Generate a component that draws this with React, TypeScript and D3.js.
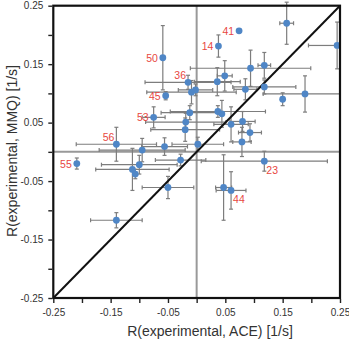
import React, { useEffect, useRef } from 'react';
import * as d3 from 'd3';

// relaxation rates, ACE (x) vs MMQ (y), with their errors
const rAce = [0.074, 0.038, 0.157, 0.245, 0.094, 0.118, 0.049, 0.036, -0.015, -0.009,
  -0.002, 0.085, 0.118, 0.150, 0.189, -0.059, -0.054, -0.075, -0.012, -0.019,
  -0.020, 0.037, 0.044, 0.060, 0.080, 0.093, 0.079, 0.002, -0.140, -0.095,
  -0.056, -0.028, -0.100, -0.112, -0.107, -0.050, -0.140, -0.209, 0.118, 0.047, 0.060];
const rMmq = [0.207, 0.181, 0.220, 0.182, 0.143, 0.148, 0.130, 0.120, 0.119, 0.102,
  0.106, 0.107, 0.111, 0.090, 0.099, 0.161, 0.096, 0.059, 0.067, 0.051,
  0.038, 0.069, 0.065, 0.047, 0.052, 0.033, 0.017, 0.013, 0.013, 0.003,
  0.009, -0.014, -0.022, -0.030, -0.038, -0.061, -0.117, -0.020, -0.016, -0.061, -0.066];
const aceErr = [0, 0, 0.012, 0.05, 0.105, 0.011, 0.013, 0.04, 0.075, 0.078,
  0.03, 0.02, 0.055, 0, 0.073, 0, 0, 0.02, 0.05, 0.07,
  0.06, 0.083, 0, 0.03, 0.022, 0.02, 0.016, 0.045, 0.07, 0.075,
  0.04, 0.044, 0.066, 0.064, 0, 0.045, 0.045, 0, 0.11, 0.014, 0.026];
const mmqErr = [0, 0.019, 0.036, 0.04, 0.031, 0.022, 0.026, 0.024, 0.012, 0.02,
  0.01, 0.018, 0.012, 0.011, 0.031, 0.055, 0.007, 0.018, 0.012, 0.015,
  0.02, 0.01, 0.023, 0.03, 0.017, 0.015, 0.025, 0.012, 0.029, 0.02,
  0.015, 0.01, 0.016, 0.036, 0.008, 0.019, 0.013, 0.0095, 0.017, 0.056, 0.032];

// residue ids shown next to selected points and where the id sits
const residueIds = ['41', '14', '', '', '', '', '', '', '36', '',
  '', '', '', '', '', '50', '45', '53', '', '',
  '', '', '', '', '', '', '', '', '56', '',
  '', '', '', '', '', '', '', '55', '23', '', '44'];
const labelSide = ['left', 'left', '', '', '', '', '', '', 'upleft', '',
  '', '', '', '', '', 'left', 'left', 'left', '', '',
  '', '', '', '', '', '', '', '', 'upleft', '',
  '', '', '', '', '', '', '', 'left', 'downright', '', 'downright'];

const tickValues = [-0.25, -0.2, -0.15, -0.1, -0.05, 0, 0.05, 0.1, 0.15, 0.2, 0.25];
const labeledTicks = [-0.25, -0.15, -0.05, 0.05, 0.15, 0.25];

const W = 349;
const H = 345;
const margin = { top: 5.7, right: 9, bottom: 47, left: 53.3 };

const font = '"Liberation Sans", Arial, sans-serif';

export default function App() {
  const xAxisRef = useRef<SVGGElement>(null);
  const yAxisRef = useRef<SVGGElement>(null);

  const x = d3.scaleLinear().domain([-0.25, 0.25]).range([margin.left, W - margin.right]);
  const y = d3.scaleLinear().domain([-0.25, 0.25]).range([H - margin.bottom, margin.top]);

  const fmt = (d: d3.NumberValue) => {
    const v = +d;
    return labeledTicks.some(t => Math.abs(t - v) < 1e-9) ? v.toFixed(2) : '';
  };

  useEffect(() => {
    const gx = d3.select(xAxisRef.current!);
    gx.selectAll('*').remove();
    gx.call(d3.axisBottom(x).tickValues(tickValues).tickFormat(fmt).tickSize(4).tickPadding(6));
    const gy = d3.select(yAxisRef.current!);
    gy.selectAll('*').remove();
    gy.call(d3.axisLeft(y).tickValues(tickValues).tickFormat(fmt).tickSize(4).tickPadding(5));
    [gx, gy].forEach(g => {
      g.select('.domain').remove();
      g.selectAll('line').attr('stroke', '#222').attr('stroke-width', 1.4);
      g.selectAll('text').attr('fill', '#333').style('font-family', font).style('font-size', '10px');
    });
  }, []);

  const cap = 2;
  const pts = rAce.map((v, i) => ({
    cx: x(v), cy: y(rMmq[i]),
    ex: aceErr[i], ey: mmqErr[i],
    id: residueIds[i], side: labelSide[i],
    xv: v, yv: rMmq[i],
  }));

  const diag = d3.line<number>().x(d => x(d)).y(d => y(d))([-0.25, 0.25]);

  return (
    <svg width={W} height={H} style={{ position: 'absolute', left: 0, top: 0, background: '#fff' }}>
      {/* zero reference lines */}
      <line x1={x(0)} x2={x(0)} y1={y(-0.25)} y2={y(0.25)} stroke="#999" strokeWidth={2} />
      <line x1={x(-0.25)} x2={x(0.25)} y1={y(0)} y2={y(0)} stroke="#999" strokeWidth={2} />

      {/* error bars */}
      <g stroke="#7d7d7d" strokeWidth={1.2}>
        {pts.map((p, i) => (
          <g key={i}>
            {p.ex > 0 && (
              <>
                <line x1={x(Math.max(-0.25, p.xv - p.ex))} x2={x(Math.min(0.25, p.xv + p.ex))} y1={p.cy} y2={p.cy} />
                <line x1={x(p.xv - p.ex)} x2={x(p.xv - p.ex)} y1={p.cy - cap} y2={p.cy + cap} />
                {p.xv + p.ex < 0.25 && (
                  <line x1={x(p.xv + p.ex)} x2={x(p.xv + p.ex)} y1={p.cy - cap} y2={p.cy + cap} />
                )}
              </>
            )}
            {p.ey > 0 && (
              <>
                <line x1={p.cx} x2={p.cx} y1={y(p.yv + p.ey)} y2={y(p.yv - p.ey)} />
                <line x1={p.cx - cap} x2={p.cx + cap} y1={y(p.yv + p.ey)} y2={y(p.yv + p.ey)} />
                <line x1={p.cx - cap} x2={p.cx + cap} y1={y(p.yv - p.ey)} y2={y(p.yv - p.ey)} />
              </>
            )}
          </g>
        ))}
      </g>

      {/* y = x */}
      <path d={diag ?? ''} stroke="#111" strokeWidth={2} fill="none" />

      {/* points */}
      {pts.map((p, i) => (
        <circle key={i} cx={p.cx} cy={p.cy} r={3.4} fill="#4f86c6" />
      ))}

      {/* residue ids */}
      <g fill="#e8473f" style={{ fontFamily: font, fontSize: '10.5px' }}>
        {pts.filter(p => p.id).map((p, i) => {
          let tx = p.cx - 5;
          let ty = p.cy + 4;
          let anchor = 'end';
          if (p.side === 'upleft') { tx = p.cx - 2; ty = p.cy - 3; }
          if (p.side === 'downright') { tx = p.cx + 2; ty = p.cy + 13; anchor = 'start'; }
          return (
            <text key={i} x={tx} y={ty} textAnchor={anchor}>{p.id}</text>
          );
        })}
      </g>

      {/* frame */}
      <rect x={x(-0.25)} y={y(0.25)} width={x(0.25) - x(-0.25)} height={y(-0.25) - y(0.25)}
        fill="none" stroke="#111" strokeWidth={2.2} />

      <g ref={xAxisRef} transform={`translate(0,${y(-0.25) + 1})`} />
      <g ref={yAxisRef} transform={`translate(${x(-0.25) - 1},0)`} />

      <text x={210} y={336} textAnchor="middle" fill="#333"
        style={{ fontFamily: font, fontSize: '14px' }}>R(experimental, ACE) [1/s]</text>
      <text transform={`translate(17,151) rotate(-90)`} textAnchor="middle" fill="#333"
        style={{ fontFamily: font, fontSize: '14px' }}>R(experimental, MMQ) [1/s]</text>
    </svg>
  );
}
